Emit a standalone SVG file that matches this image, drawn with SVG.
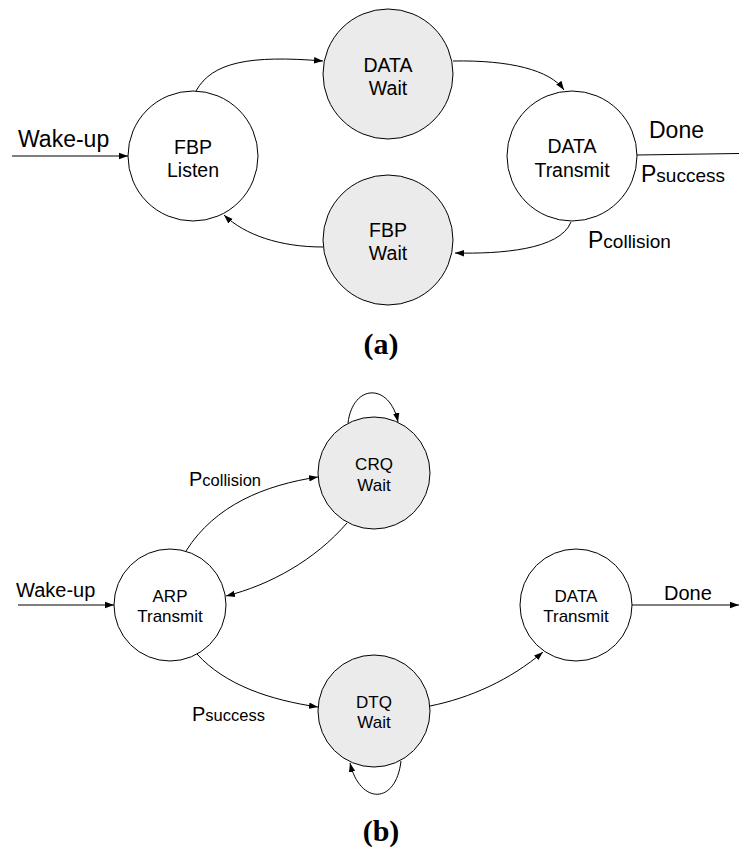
<svg xmlns="http://www.w3.org/2000/svg" width="739" height="848" viewBox="0 0 739 848">
<style>
.n{stroke:#000;stroke-width:1}
.w{fill:#fff}
.g{fill:#ebebeb}
.t{font-family:"Liberation Sans",Arial,Helvetica,sans-serif;fill:#000;text-anchor:middle}
.ta{font-size:19.5px}
.tb{font-size:17px}
.l{font-family:"Liberation Sans",Arial,Helvetica,sans-serif;fill:#000}
.la{font-size:23px}
.lb{font-size:20px}
.sa{font-size:19px}
.sb{font-size:16.5px}
.c{fill:none;stroke:#000;stroke-width:1}
.cap{font-family:"Liberation Serif","Times New Roman",serif;font-weight:bold;font-size:30px;text-anchor:middle;fill:#000}
</style>
<defs>
<marker id="ah" markerUnits="userSpaceOnUse" markerWidth="10" markerHeight="8" refX="9" refY="4" orient="auto">
<path d="M0,0.8 L9,4 L0,7.2 Z" fill="#000"/>
</marker>
</defs>

<g id="connectors">
<path class="c" d="M12,156 L128,156" marker-end="url(#ah)"/>
<path class="c" d="M196,91 C212,62 250,55 323,61" marker-end="url(#ah)"/>
<path class="c" d="M453,61 C510,60 550,70 564,90" marker-end="url(#ah)"/>
<path class="c" d="M571,222 C560,250 500,254 455,253" marker-end="url(#ah)"/>
<path class="c" d="M323,247 C280,247 245,235 224,215" marker-end="url(#ah)"/>
<path class="c" d="M637,155 L739,153.5"/>
<path class="c" d="M18,605 L114,605" marker-end="url(#ah)"/>
<path class="c" d="M186,551 C215,505 265,485 318,477" marker-end="url(#ah)"/>
<path class="c" d="M347,523 C315,560 270,585 226,596" marker-end="url(#ah)"/>
<path class="c" d="M197,654 C225,685 270,700 318,707" marker-end="url(#ah)"/>
<path class="c" d="M430,706 C470,698 510,680 543,652" marker-end="url(#ah)"/>
<path class="c" d="M348,423 C353,383 390,383 398,422" marker-end="url(#ah)"/>
<path class="c" d="M401,761 C396,805 360,805 350,763" marker-end="url(#ah)"/>
<path class="c" d="M632,605 L739,605" marker-end="url(#ah)"/>
</g>

<g id="labels">
<text class="l la" x="18" y="147">Wake-up</text>
<text class="l la" x="649" y="138">Done</text>
<text class="l la" x="641" y="182">P<tspan class="sa">success</tspan></text>
<text class="l la" x="588" y="248">P<tspan class="sa">collision</tspan></text>
<text class="l lb" x="16" y="597">Wake-up</text>
<text class="l lb" x="664" y="600">Done</text>
<text class="l lb" x="189" y="486">P<tspan class="sb">collision</tspan></text>
<text class="l lb" x="192" y="721">P<tspan class="sb">success</tspan></text>
</g>

<g id="fbp-listen">
<circle class="n w" cx="193" cy="156" r="65"/>
<text class="t ta" x="193" y="154">FBP</text>
<text class="t ta" x="193" y="177">Listen</text>
</g>
<g id="data-wait">
<circle class="n g" cx="388" cy="74" r="65"/>
<text class="t ta" x="388" y="72">DATA</text>
<text class="t ta" x="388" y="95">Wait</text>
</g>
<g id="fbp-wait">
<circle class="n g" cx="388" cy="240" r="65"/>
<text class="t ta" x="388" y="237">FBP</text>
<text class="t ta" x="388" y="260">Wait</text>
</g>
<g id="data-transmit-a">
<circle class="n w" cx="572" cy="156" r="65"/>
<text class="t ta" x="572" y="153">DATA</text>
<text class="t ta" x="572" y="177">Transmit</text>
</g>

<g id="arp-transmit">
<circle class="n w" cx="170" cy="605" r="56"/>
<text class="t tb" x="170" y="602">ARP</text>
<text class="t tb" x="170" y="622">Transmit</text>
</g>
<g id="crq-wait">
<circle class="n g" cx="374" cy="473" r="56"/>
<text class="t tb" x="374" y="470">CRQ</text>
<text class="t tb" x="374" y="491">Wait</text>
</g>
<g id="dtq-wait">
<circle class="n g" cx="374" cy="711" r="56"/>
<text class="t tb" x="374" y="708">DTQ</text>
<text class="t tb" x="374" y="728">Wait</text>
</g>
<g id="data-transmit-b">
<circle class="n w" cx="576" cy="605" r="56"/>
<text class="t tb" x="576" y="602">DATA</text>
<text class="t tb" x="576" y="622">Transmit</text>
</g>

<g id="captions">
<text class="cap" x="381" y="354">(a)</text>
<text class="cap" x="381" y="841">(b)</text>
</g>
</svg>
